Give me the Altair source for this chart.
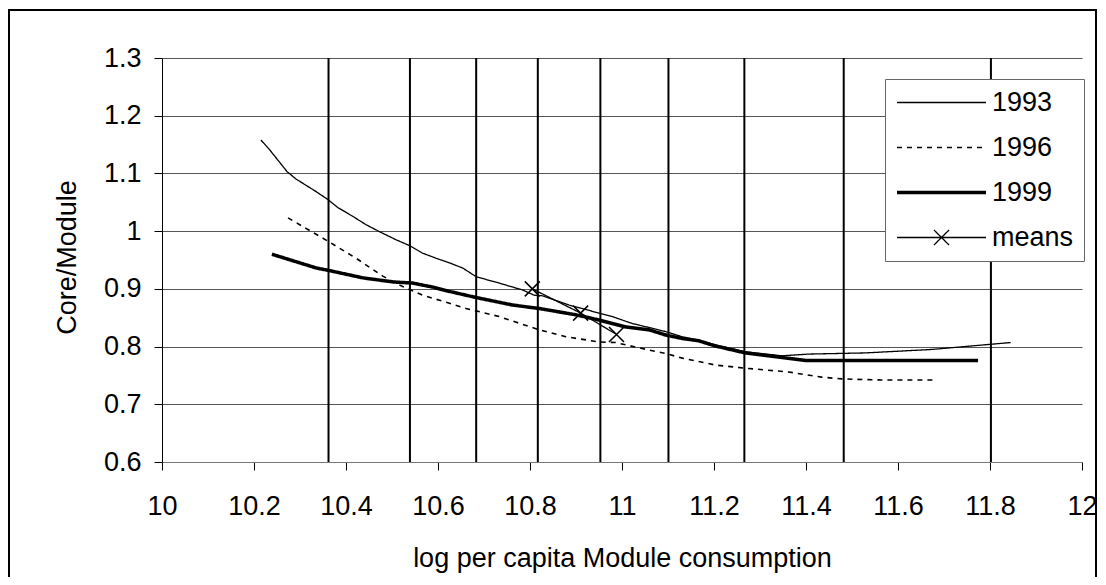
import altair as alt
import pandas as pd

# ---- data ----
x1993 = [10.215, 10.234, 10.272, 10.292, 10.336, 10.362, 10.382, 10.414, 10.444, 10.473,
         10.509, 10.538, 10.566, 10.596, 10.625, 10.654, 10.683, 10.733, 10.784, 10.809,
         10.827, 10.885, 10.950, 10.979, 11.022, 11.059, 11.095, 11.131, 11.167, 11.203,
         11.268, 11.348, 11.406, 11.529, 11.673, 11.802, 11.845]
y1993 = [1.158, 1.141, 1.103, 1.090, 1.068, 1.054, 1.041, 1.026, 1.011, 0.999,
         0.985, 0.975, 0.962, 0.953, 0.945, 0.936, 0.921, 0.910, 0.898, 0.889,
         0.888, 0.872, 0.858, 0.852, 0.840, 0.833, 0.826, 0.817, 0.811, 0.803,
         0.791, 0.784, 0.787, 0.789, 0.795, 0.804, 0.807]

x1996 = [10.274, 10.362, 10.422, 10.480, 10.523, 10.567, 10.625, 10.661, 10.733, 10.820,
         10.878, 10.950, 10.986, 11.008, 11.059, 11.095, 11.131, 11.167, 11.203, 11.275,
         11.362, 11.434, 11.478, 11.565, 11.680]
y1996 = [1.023, 0.982, 0.953, 0.922, 0.904, 0.889, 0.875, 0.866, 0.852, 0.829,
         0.817, 0.808, 0.807, 0.803, 0.794, 0.788, 0.780, 0.774, 0.768, 0.762,
         0.756, 0.747, 0.744, 0.742, 0.742]

x1999 = [10.239, 10.336, 10.362, 10.437, 10.502, 10.545, 10.589, 10.617, 10.683, 10.762,
         10.820, 10.900, 10.950, 11.008, 11.059, 11.095, 11.131, 11.167, 11.203, 11.268,
         11.348, 11.398, 11.774]
y1999 = [0.960, 0.936, 0.932, 0.919, 0.912, 0.910, 0.903, 0.897, 0.885, 0.872,
         0.866, 0.855, 0.846, 0.834, 0.829, 0.820, 0.814, 0.810, 0.801, 0.789,
         0.781, 0.776, 0.776]

xmeans = [10.805, 10.910, 10.988]
ymeans = [0.900, 0.858, 0.821]

vlines = [10.362, 10.539, 10.683, 10.817, 10.953, 11.101, 11.266, 11.482, 11.802]

series_names = ["1993", "1996", "1999", "means"]
xticks = [10, 10.2, 10.4, 10.6, 10.8, 11, 11.2, 11.4, 11.6, 11.8, 12]
yticks = [0.6, 0.7, 0.8, 0.9, 1.0, 1.1, 1.2, 1.3]

# ---- tables ----
rows = []
for name, xs, ys in [("1993", x1993, y1993), ("1996", x1996, y1996),
                     ("1999", x1999, y1999), ("means", xmeans, ymeans)]:
    for i, (a, b) in enumerate(zip(xs, ys)):
        rows.append({"x": a, "y": b, "series": name, "i": i})
df = pd.DataFrame(rows)
df_means = df[df.series == "means"]
df_v = pd.DataFrame({"v": vlines})

FONT = "Liberation Sans"
FS = 27

X_PATH = "M-1,-1L1,1M-1,1L1,-1"
LINE_PATH = "M-1,0L1,0"
MEANS_LEG = "M-1,0L1,0M-0.17,-0.17L0.17,0.17M-0.17,0.17L0.17,-0.17"

W, H = 920, 404

xscale = alt.Scale(domain=[10, 12], nice=False, zero=False)
yscale = alt.Scale(domain=[0.6, 1.3], nice=False, zero=False)

xaxis = alt.Axis(values=xticks, format="~g", title="log per capita Module consumption",
                 titleFontSize=FS, titleFontWeight="normal", titleColor="black",
                 titleY=104, titleBaseline="alphabetic", titleFont=FONT,
                 labelFontSize=FS, labelFont=FONT, labelColor="black", labelPadding=23,
                 labelFlush=False, labelOverlap=False, tickSize=8, tickColor="black",
                 domainColor="#777777", grid=False)
yaxis = alt.Axis(values=yticks, format="~g", title="Core/Module",
                 titleFontSize=FS, titleFontWeight="normal", titleColor="black",
                 titleX=-87, titleY=199, titleAngle=270, titleBaseline="alphabetic",
                 titleFont=FONT, titleAlign="center",
                 labelFontSize=FS, labelFont=FONT, labelColor="black", labelPadding=13,
                 labelFlush=False, labelOverlap=False, tickSize=8, tickColor="black",
                 domainColor="black", grid=True, gridColor="#555555", gridWidth=1)

leg = alt.Legend(orient="none", legendX=723, legendY=21, title=None,
                 symbolSize=7921, labelFontSize=FS, labelFont=FONT, labelColor="black",
                 labelOffset=4, rowPadding=17, padding=10, fillColor="white",
                 strokeColor="#666666", labelLimit=300, clipHeight=27)

rules = alt.Chart(df_v).mark_rule(color="black", strokeWidth=2).encode(
    x=alt.X("v:Q", scale=xscale, axis=xaxis),
    y=alt.datum(0.6, scale=yscale),
    y2=alt.datum(1.3),
)

lines = alt.Chart(df).mark_line(color="black").encode(
    x=alt.X("x:Q", scale=xscale, axis=xaxis),
    y=alt.Y("y:Q", scale=yscale, axis=yaxis),
    detail="series:N",
    order=alt.Order("i:Q"),
    strokeDash=alt.StrokeDash("series:N", scale=alt.Scale(
        domain=series_names, range=[[1, 0], [5, 5], [1, 0], [1, 0]]), legend=leg),
    strokeWidth=alt.StrokeWidth("series:N", scale=alt.Scale(
        type="ordinal", domain=series_names, range=[1.3, 1.6, 3.5, 1.3]), legend=leg),
)

points = alt.Chart(df_means).mark_point(
    shape=X_PATH, size=225, filled=False, color="black", strokeWidth=1.5, opacity=1
).encode(
    x=alt.X("x:Q", scale=xscale, axis=xaxis),
    y=alt.Y("y:Q", scale=yscale, axis=yaxis),
)

dummy = alt.Chart(df).transform_filter("datum.y < 0").mark_point(
    filled=False, color="black", opacity=1
).encode(
    x=alt.X("x:Q", scale=xscale, axis=xaxis),
    y=alt.Y("y:Q", scale=yscale, axis=yaxis),
    shape=alt.Shape("series:N", scale=alt.Scale(
        domain=series_names, range=[LINE_PATH, LINE_PATH, LINE_PATH, MEANS_LEG]), legend=leg),
)

border = alt.Chart(alt.Data(values=[{"a": 1}])).mark_rect(
    fill="transparent", stroke="black", strokeWidth=2
).encode(
    x=alt.value(-153), x2=alt.value(934), y=alt.value(-48), y2=alt.value(524)
)

chart = alt.layer(rules, lines, points, dummy, border).properties(
    width=W, height=H,
    padding={"left": 154, "top": 50, "right": 16, "bottom": 115},
    autosize=alt.AutoSizeParams(type="none"),
    background="white",
).configure(font=FONT).configure_view(stroke="transparent")

chart.save("out.html", embed_options={"renderer": "svg", "actions": False})
